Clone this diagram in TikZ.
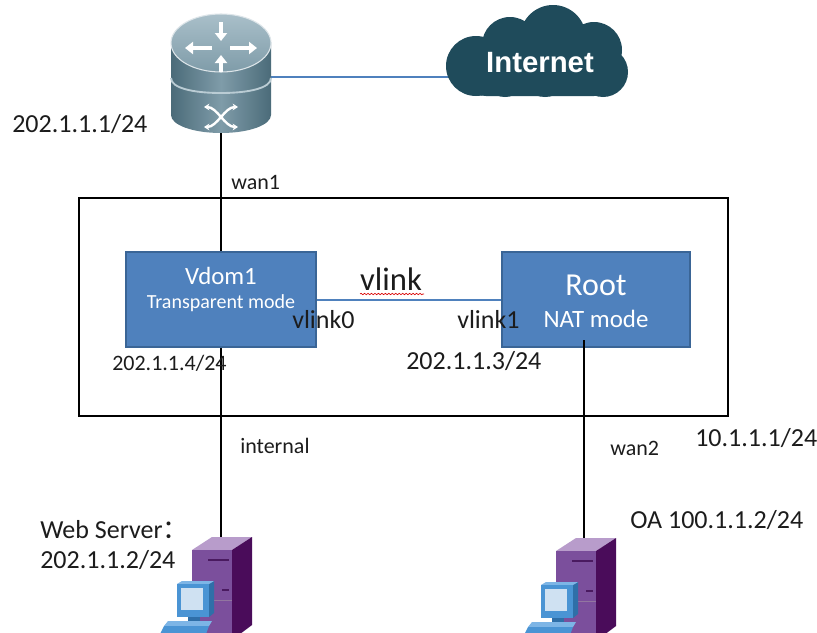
\documentclass[tikz,border=0pt]{standalone}
\usepackage{fontspec}
\setmainfont{Carlito}
\newfontfamily\headfont{Liberation Sans}
\newfontfamily\cjk{Noto Sans CJK SC}
\usetikzlibrary{arrows.meta,decorations.pathmorphing}

\definecolor{ink}{HTML}{1C1C1C}
\definecolor{boxfill}{HTML}{4F81BD}
\definecolor{boxedge}{HTML}{3A6596}
\definecolor{linkblue}{HTML}{4F81BD}
\definecolor{cloudteal}{HTML}{1F4B5B}
\definecolor{rtdark}{HTML}{4B6B79}
\definecolor{rtmid}{HTML}{7F9CA9}
\definecolor{rtlight}{HTML}{A9BFC9}
\definecolor{srvfront}{HTML}{7B4F9C}
\definecolor{srvtop}{HTML}{B89CCB}
\definecolor{srvside}{HTML}{4A0C5A}
\definecolor{srvline}{HTML}{4A1A60}
\definecolor{pcframe}{HTML}{4A94D4}
\definecolor{pcdark}{HTML}{2F6FA8}
\definecolor{pclight}{HTML}{7DB5E6}
\definecolor{pcscreen}{HTML}{CFE1F2}

\tikzset{
  lbl/.style={inner sep=0pt, anchor=base west, text=ink, font=\fontsize{19.5}{23}\selectfont},
  small/.style={lbl, font=\fontsize{16.5}{20}\selectfont},
  intext/.style={inner sep=0pt, anchor=base, text=white},
  vdbox/.style={draw=boxedge, fill=boxfill, line width=1.2pt, inner sep=0pt,
    minimum width=142.5pt, minimum height=71.25pt},
  wire/.style={draw=black, line width=1.8pt},
  bluelink/.style={draw=linkblue, line width=1.1pt},
  server/.pic={
    % tower
    \fill[srvtop] (0,0) -- (40,0) -- (60,-13) -- (20,-13) -- cycle;
    \fill[srvfront] (0,0) rectangle (40,90);
    \fill[srvside] (40,0) -- (60,-13) -- (60,75) -- (40,90) -- cycle;
    \draw[srvline, line width=1.2pt] (16,10) -- (37,10);
    \draw[srvline, line width=1.2pt] (30,40) -- (37,40);
    \draw[srvline!60, line width=0.6pt] (0,50) -- (40,50);
    % workstation in front
    \fill[pcdark] (17,34) -- (22,31) -- (22,63) -- (17,67) -- cycle;
    \fill[pclight] (-15,34) -- (-10,31) -- (22,31) -- (17,34) -- cycle;
    \fill[pcframe] (-15,34) rectangle (17,67);
    \fill[pcscreen] (-11,38) rectangle (11,60);
    \fill[pcdark] (-4,67) rectangle (8,71);
    \fill[pclight] (-24,71) -- (20,71) -- (17,76) -- (-28,76) -- cycle;
    \fill[pcframe] (-28,76) -- (17,76) -- (14,84) -- (-32,84) -- cycle;
  }
}

\begin{document}
\begin{tikzpicture}[x=0.75pt,y=-0.75pt]
\useasboundingbox (0,0) rectangle (817,632);
\clip (0,0) rectangle (817,632);
\fill[white] (0,0) rectangle (817,632);

% ---- router ----
\node[inner sep=0pt, minimum width=75pt, minimum height=88.5pt] (router) at (221,74) {};
\coordinate (cloudport) at (470,77);
\draw[bluelink] (router.east |- cloudport) -- (cloudport);
\shade[left color=rtdark, right color=rtdark, middle color=rtmid]
  (171,42) -- (171,115) .. controls (171,125) and (193,133) .. (221,133)
  .. controls (249,133) and (271,125) .. (271,115) -- (271,42) -- cycle;
\draw[rtlight!80!white, line width=1.4pt]
  (171,78) .. controls (171,88) and (193,93) .. (221,93)
  .. controls (249,93) and (271,88) .. (271,78);
\shade[top color=rtlight, bottom color=rtmid] (221,43) ellipse [x radius=37.5pt, y radius=21.75pt];
\draw[white!60!rtlight, line width=0.8pt] (221,43) ellipse [x radius=37.5pt, y radius=21.75pt];
\begin{scope}[white, line width=3pt, -{Triangle[width=9pt,length=6pt]}]
  \draw (212,48) -- (185,48);
  \draw (230,48) -- (257,48);
  \draw (221,22) -- (221,41);
  \draw (221,72) -- (221,55);
\end{scope}
\begin{scope}[white, line width=1.8pt, {Stealth[length=4pt,width=5pt]}-{Stealth[length=4pt,width=5pt]}]
  \draw (204,107) .. controls (217,107) and (225,127) .. (238,127);
  \draw (238,107) .. controls (225,107) and (217,127) .. (204,127);
\end{scope}

% ---- cloud ----
\node[inner sep=0pt, minimum width=136pt, minimum height=68pt] (cloud) at (537,51) {};
\fill[cloudteal]
  (476,66) circle [radius=22.5pt]
  (510,45) circle [radius=21pt]
  (553,38) circle [radius=24.75pt]
  (594,50) circle [radius=21pt]
  (603,72) circle [radius=18.75pt]
  (545,72) circle [radius=18.75pt]
  (505,75) circle [radius=16.5pt];
\fill[cloudteal, rounded corners=18pt] (462,55) rectangle (618,96);
\node[text=white, inner sep=0pt, font=\headfont\bfseries\fontsize{22}{26}\selectfont] (inet) at (540,63) {Internet};

% ---- system frame ----
\node[draw=black, line width=1.5pt, inner sep=0pt,
  minimum width=486.75pt, minimum height=163.5pt] (frame) at (403.5,307) {};

% ---- virtual domains ----
\node[vdbox] (vdom) at (221,299.5) {};
\node[vdbox, minimum width=141pt] (root) at (596,299.5) {};

% ---- connections ----
\coordinate (rootport) at (584,340);
\coordinate (webtop) at (221,541);
\coordinate (oatop) at (584,541);
\draw[wire] (router.south) -- (vdom.north);
\draw[wire] (vdom.south) -- (webtop);
\draw[wire] (rootport) -- (oatop);
\draw[bluelink, line width=1.5pt] (vdom.east) -- (root.west);

% ---- hosts ----
\pic at (192,550) {server};
\pic at (556,551) {server};

% ---- texts ----
\node[intext, font=\fontsize{18.6}{22}\selectfont] (vdomname) at (221,284) {Vdom1};
\node[intext, font=\fontsize{15}{18}\selectfont] (vdommode) at (221,308) {Transparent mode};
\node[intext, font=\fontsize{24}{28}\selectfont] (rootname) at (596,295) {Root};
\node[intext, font=\fontsize{18.7}{22}\selectfont] (rootmode) at (596,327) {NAT mode};

\node[inner sep=0pt, anchor=base, text=ink, font=\fontsize{24.5}{28}\selectfont] (vlinklbl) at (391,290) {vlink};
\draw[red!85!black, line width=0.5pt, decorate,
  decoration={snake, amplitude=0.5pt, segment length=2.6pt}] (360,294) -- (424,294);
\node[lbl] (vl0) at (292,328) {vlink0};
\node[lbl] (vl1) at (457,328) {vlink1};

\node[lbl] (ip1) at (12,132) {202.1.1.1/24};
\node[small] (wan1) at (231,189) {wan1};
\node[small] (ip4) at (112,370) {202.1.1.4/24};
\node[lbl] (ip3) at (406,369) {202.1.1.3/24};
\node[small] (internal) at (240,453) {internal};
\node[small] (wan2) at (610,455) {wan2};
\node[lbl] (ip10) at (695,446) {10.1.1.1/24};
\node[lbl] (oalbl) at (630,528) {OA 100.1.1.2/24};
\node[lbl] (weblbl) at (40,538) {Web Server{\cjk ：}};
\node[lbl] (ip2) at (40,568) {202.1.1.2/24};
\end{tikzpicture}
\end{document}
